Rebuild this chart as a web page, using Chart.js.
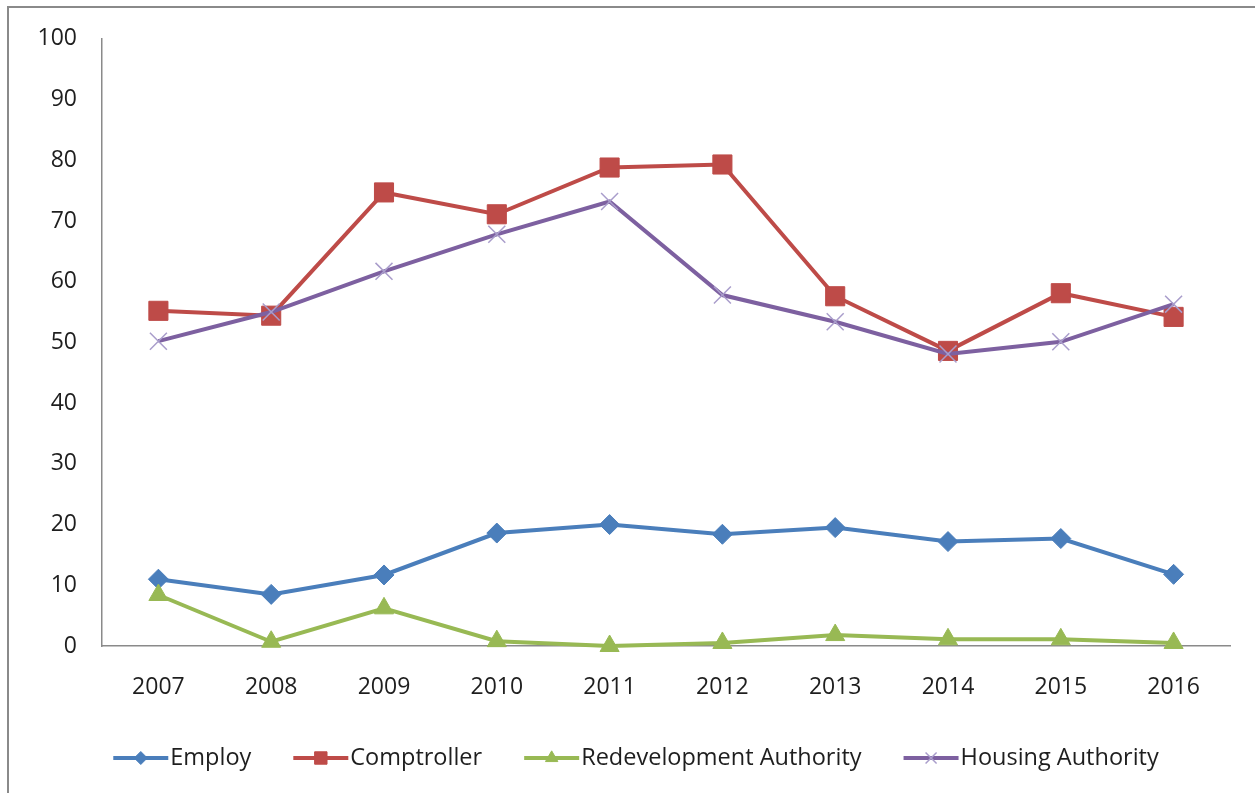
<!DOCTYPE html>
<html>
<head>
<meta charset="utf-8">
<title>Agency scores 2007-2016</title>
<script src="https://cdn.jsdelivr.net/npm/chart.js@4.4.1/dist/chart.umd.min.js"></script>
<style>
    html, body { margin: 0; padding: 0; background: #fff; overflow: hidden; }
    #wrap { position: relative; width: 1255px; height: 793px; overflow: hidden; }
    #frame { position: absolute; left: 7px; top: 6px; width: 1400px; height: 900px; border: 2px solid #8a8a8a; }
    #chart { position: absolute; left: 0; top: 0; }
</style>
</head>
<body>
<div id="wrap">
    <div id="frame"></div>
    <canvas id="chart" width="1255" height="793"></canvas>
</div>
<script>
// Chart data
const years = ['2007', '2008', '2009', '2010', '2011', '2012', '2013', '2014', '2015', '2016'];
const employ = [11.0, 8.5, 11.7, 18.6, 20.0, 18.4, 19.5, 17.2, 17.7, 11.8];
const comptroller = [55.2, 54.4, 74.7, 71.1, 78.8, 79.3, 57.6, 48.6, 58.1, 54.2];
const redevelopment = [8.4, 0.7, 6.2, 0.8, 0.0, 0.5, 1.8, 1.1, 1.1, 0.5];
const housing = [50.2, 55.0, 61.7, 67.8, 73.2, 57.8, 53.4, 48.1, 50.1, 56.3];
const yTicks = [0, 10, 20, 30, 40, 50, 60, 70, 80, 90, 100];

const FONT = '"Open Sans", "Noto Sans", sans-serif';
const TEXT_COLOR = '#1e1e1e';
const AXIS_COLOR = '#8a8a8a';

// Legend drawn inside the canvas: a line with the series marker, then the label
const lineLegend = {
    id: 'lineLegend',
    afterDraw(chart) {
        const ctx = chart.ctx;
        const lineLen = 55, gap = 2, spacing = 42, centerX = 636, y = 758;
        ctx.save();
        ctx.font = '23.5px ' + FONT;
        const items = chart.data.datasets.map(ds => ({ ds: ds, w: ctx.measureText(ds.label).width }));
        const total = items.reduce((s, it) => s + lineLen + gap + it.w, 0) + spacing * (items.length - 1);
        let x = centerX - total / 2;
        items.forEach(it => {
            const ds = it.ds;
            ctx.strokeStyle = ds.borderColor;
            ctx.lineWidth = ds.borderWidth;
            ctx.beginPath();
            ctx.moveTo(x, y);
            ctx.lineTo(x + lineLen, y);
            ctx.stroke();
            ctx.fillStyle = ds.pointBackgroundColor;
            ctx.strokeStyle = ds.pointBorderColor;
            ctx.lineWidth = ds.pointBorderWidth;
            Chart.helpers.drawPoint(ctx, {
                pointStyle: ds.pointStyle,
                radius: ds.pointRadius * 0.65,
                rotation: 0,
                borderWidth: ds.pointBorderWidth
            }, x + lineLen / 2, y);
            ctx.fillStyle = TEXT_COLOR;
            ctx.textBaseline = 'middle';
            ctx.textAlign = 'left';
            ctx.fillText(ds.label, x + lineLen + gap, y);
            x += lineLen + gap + it.w + spacing;
        });
        ctx.restore();
    }
};

function series(label, data, color, style, radius, order, markerColor, markerWidth) {
    return {
        label: label,
        data: data,
        borderColor: color,
        backgroundColor: color,
        borderWidth: 4,
        pointStyle: style,
        pointRadius: radius,
        pointHoverRadius: radius,
        pointBackgroundColor: color,
        pointBorderColor: markerColor || color,
        pointBorderWidth: markerWidth || 1,
        tension: 0,
        clip: false,
        order: order
    };
}

new Chart(document.getElementById('chart'), {
    type: 'line',
    data: {
        labels: years,
        datasets: [
            series('Employ', employ, '#4a7ebb', 'rectRot', 10, 3),
            series('Comptroller', comptroller, '#be4b48', 'rect', 13.5, 2),
            series('Redevelopment Authority', redevelopment, '#98b954', 'triangle', 11, 1),
            series('Housing Authority', housing, '#7d60a0', 'crossRot', 12, 0, '#a99dcb', 1.5)
        ]
    },
    options: {
        responsive: false,
        animation: false,
        devicePixelRatio: 1,
        layout: {
            padding: { left: 0, top: 37, right: 25, bottom: 87 }
        },
        plugins: {
            legend: { display: false },
            tooltip: { enabled: false }
        },
        scales: {
            x: {
                type: 'category',
                offset: true,
                grid: { display: false, drawTicks: false },
                border: { display: true, color: AXIS_COLOR, width: 1.5 },
                ticks: {
                    color: TEXT_COLOR,
                    font: { family: FONT, size: 23 },
                    padding: 28,
                    maxRotation: 0,
                    autoSkip: false
                },
                afterFit: function (scale) { scale.height = 60; }
            },
            y: {
                min: 0,
                max: 100,
                grid: { display: false, drawTicks: false },
                border: { display: true, color: AXIS_COLOR, width: 1.5 },
                afterBuildTicks: function (scale) {
                    scale.ticks = yTicks.map(v => ({ value: v }));
                },
                ticks: {
                    color: TEXT_COLOR,
                    font: { family: FONT, size: 23 },
                    padding: 25
                },
                afterFit: function (scale) { scale.width = 102; }
            }
        }
    },
    plugins: [lineLegend]
});
</script>
</body>
</html>
